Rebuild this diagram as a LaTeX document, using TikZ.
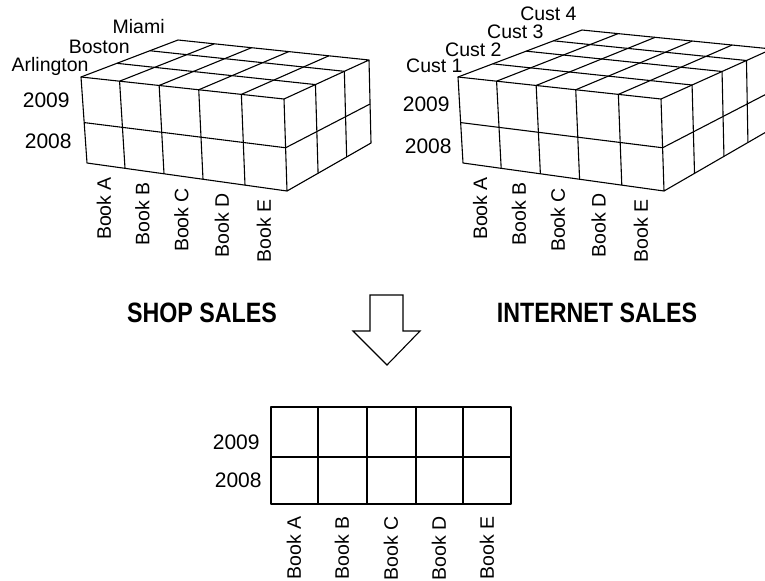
\documentclass[tikz,border=0pt]{standalone}
\usepackage{fontspec}
\setmainfont{Liberation Sans}
\newfontfamily\titlefont[FakeStretch=0.83]{Liberation Sans}
\usetikzlibrary{calc,positioning}
\tikzset{
    %Define standard line for cubes and table
    cubeedge/.style={
             draw=black, line width=0.55pt, line join=round},
    %Define styles for labels
    yearlabel/.style={
             anchor=east, inner sep=0pt,
             font=\fontsize{10.5}{12}\selectfont},
    placelabel/.style={
             anchor=east, inner sep=0pt,
             font=\fontsize{9.75}{11}\selectfont},
    booklabel/.style={
             rotate=90, anchor=east, inner sep=0pt,
             font=\fontsize{9.75}{11}\selectfont},
    salestitle/.style={
             inner sep=0pt,
             font=\titlefont\bfseries\fontsize{14}{16}\selectfont},
    % Define the hollow arrow
    bigarrow/.style={
             draw=black, line width=0.55pt, fill=white, line join=miter}
}

\begin{document}
\begin{tikzpicture}[x=0.5pt, y=-0.5pt]
 \clip (0,0) rectangle (765,580);

 % shop cube
 \coordinate (sFTL) at (81,77);
 \coordinate (sFTR) at (284,99);
 \coordinate (sFBL) at (87,163);
 \coordinate (sFBR) at (287,191);
 \coordinate (sBTL) at (178,40);
 \coordinate (sBTR) at (369,60);
 \coordinate (sBBR) at (371,143);
 \draw[cubeedge] (sFTL) -- (sFTR) -- (sFBR) -- (sFBL) -- cycle;
 \draw[cubeedge] (sFTL) -- (sBTL) -- (sBTR) -- (sFTR);
 \draw[cubeedge] (sBTR) -- (sBBR) -- (sFBR);
 \draw[cubeedge] ($(sFTL)!.53!(sFBL)$) -- ($(sFTR)!.53!(sFBR)$) -- ($(sBTR)!.53!(sBBR)$);
 \foreach \f in {.19,.385,.58,.79} {
   \draw[cubeedge] ($(sFTL)!\f!(sFTR)$) -- ($(sFBL)!\f!(sFBR)$);
   \draw[cubeedge] ($(sFTL)!\f!(sFTR)$) -- ($(sBTL)!\f!(sBTR)$);
 }
 \foreach \d in {.37,.71} {
   \draw[cubeedge] ($(sFTL)!\d!(sBTL)$) -- ($(sFTR)!\d!(sBTR)$) -- ($(sFBR)!\d!(sBBR)$);
 }
 \node[placelabel] (arlington) at (89,66) {Arlington};
 \node[placelabel] (boston) at (130,47) {Boston};
 \node[placelabel] (miami) at (165,27) {Miami};
 \node[yearlabel] (s2009) at (70,100) {2009};
 \node[yearlabel] (s2008) at (72,141) {2008};
 \foreach \f/\b in {.095/A,.2875/B,.4825/C,.685/D,.895/E} {
   \node[booklabel] (sbook\b) at ($(sFBL)!\f!(sFBR)+(-2,11)$) {Book \b};
 }

 % internet cube
 \coordinate (iFTL) at (458,77);
 \coordinate (iFTR) at (661,99);
 \coordinate (iFBL) at (463,163);
 \coordinate (iFBR) at (664,191);
 \coordinate (iBTL) at (582,30);
 \coordinate (iBTR) at (772,49);
 \coordinate (iBBR) at (773,128);
 \draw[cubeedge] (iFTL) -- (iFTR) -- (iFBR) -- (iFBL) -- cycle;
 \draw[cubeedge] (iFTL) -- (iBTL) -- (iBTR) -- (iFTR);
 \draw[cubeedge] (iBTR) -- (iBBR) -- (iFBR);
 \draw[cubeedge] ($(iFTL)!.53!(iFBL)$) -- ($(iFTR)!.53!(iFBR)$) -- ($(iBTR)!.53!(iBBR)$);
 \foreach \f in {.19,.385,.58,.79} {
   \draw[cubeedge] ($(iFTL)!\f!(iFTR)$) -- ($(iFBL)!\f!(iFBR)$);
   \draw[cubeedge] ($(iFTL)!\f!(iFTR)$) -- ($(iBTL)!\f!(iBTR)$);
 }
 \foreach \d in {.28,.55,.77} {
   \draw[cubeedge] ($(iFTL)!\d!(iBTL)$) -- ($(iFTR)!\d!(iBTR)$) -- ($(iFBR)!\d!(iBBR)$);
 }
 \node[placelabel] (cust1) at (463,66) {Cust 1};
 \node[placelabel] (cust2) at (502,50) {Cust 2};
 \node[placelabel] (cust3) at (544,32) {Cust 3};
 \node[placelabel] (cust4) at (577,14) {Cust 4};
 \node[yearlabel] (i2009) at (450,104) {2009};
 \node[yearlabel] (i2008) at (452,146) {2008};
 \foreach \f/\b in {.095/A,.2875/B,.4825/C,.685/D,.895/E} {
   \node[booklabel] (ibook\b) at ($(iFBL)!\f!(iFBR)+(-2,11)$) {Book \b};
 }

 % titles and arrow
 \node[salestitle] (shop) at (202,313) {SHOP SALES};
 \node[salestitle] (internet) at (597,313) {INTERNET SALES};
 \draw[bigarrow] (370,295) -- (403,295) -- (403,331) -- (420,331)
       -- (387,365) -- (353,331) -- (370,331) -- cycle;

 % total table
 \coordinate (tTL) at (271,407);
 \coordinate (tBR) at (511,504);
 \draw[cubeedge] (tTL) rectangle (tBR);
 \draw[cubeedge] (271,457) -- (511,457);
 \foreach \x in {318,367,416,463} {
   \draw[cubeedge] (\x,407) -- (\x,504);
 }
 \node[yearlabel] (t2009) at (260,442) {2009};
 \node[yearlabel] (t2008) at (262,480) {2008};
 \foreach \x/\b in {294/A,342/B,391/C,439/D,487/E} {
   \node[booklabel] (tbook\b) at (\x,516) {Book \b};
 }
\end{tikzpicture}
\end{document}
